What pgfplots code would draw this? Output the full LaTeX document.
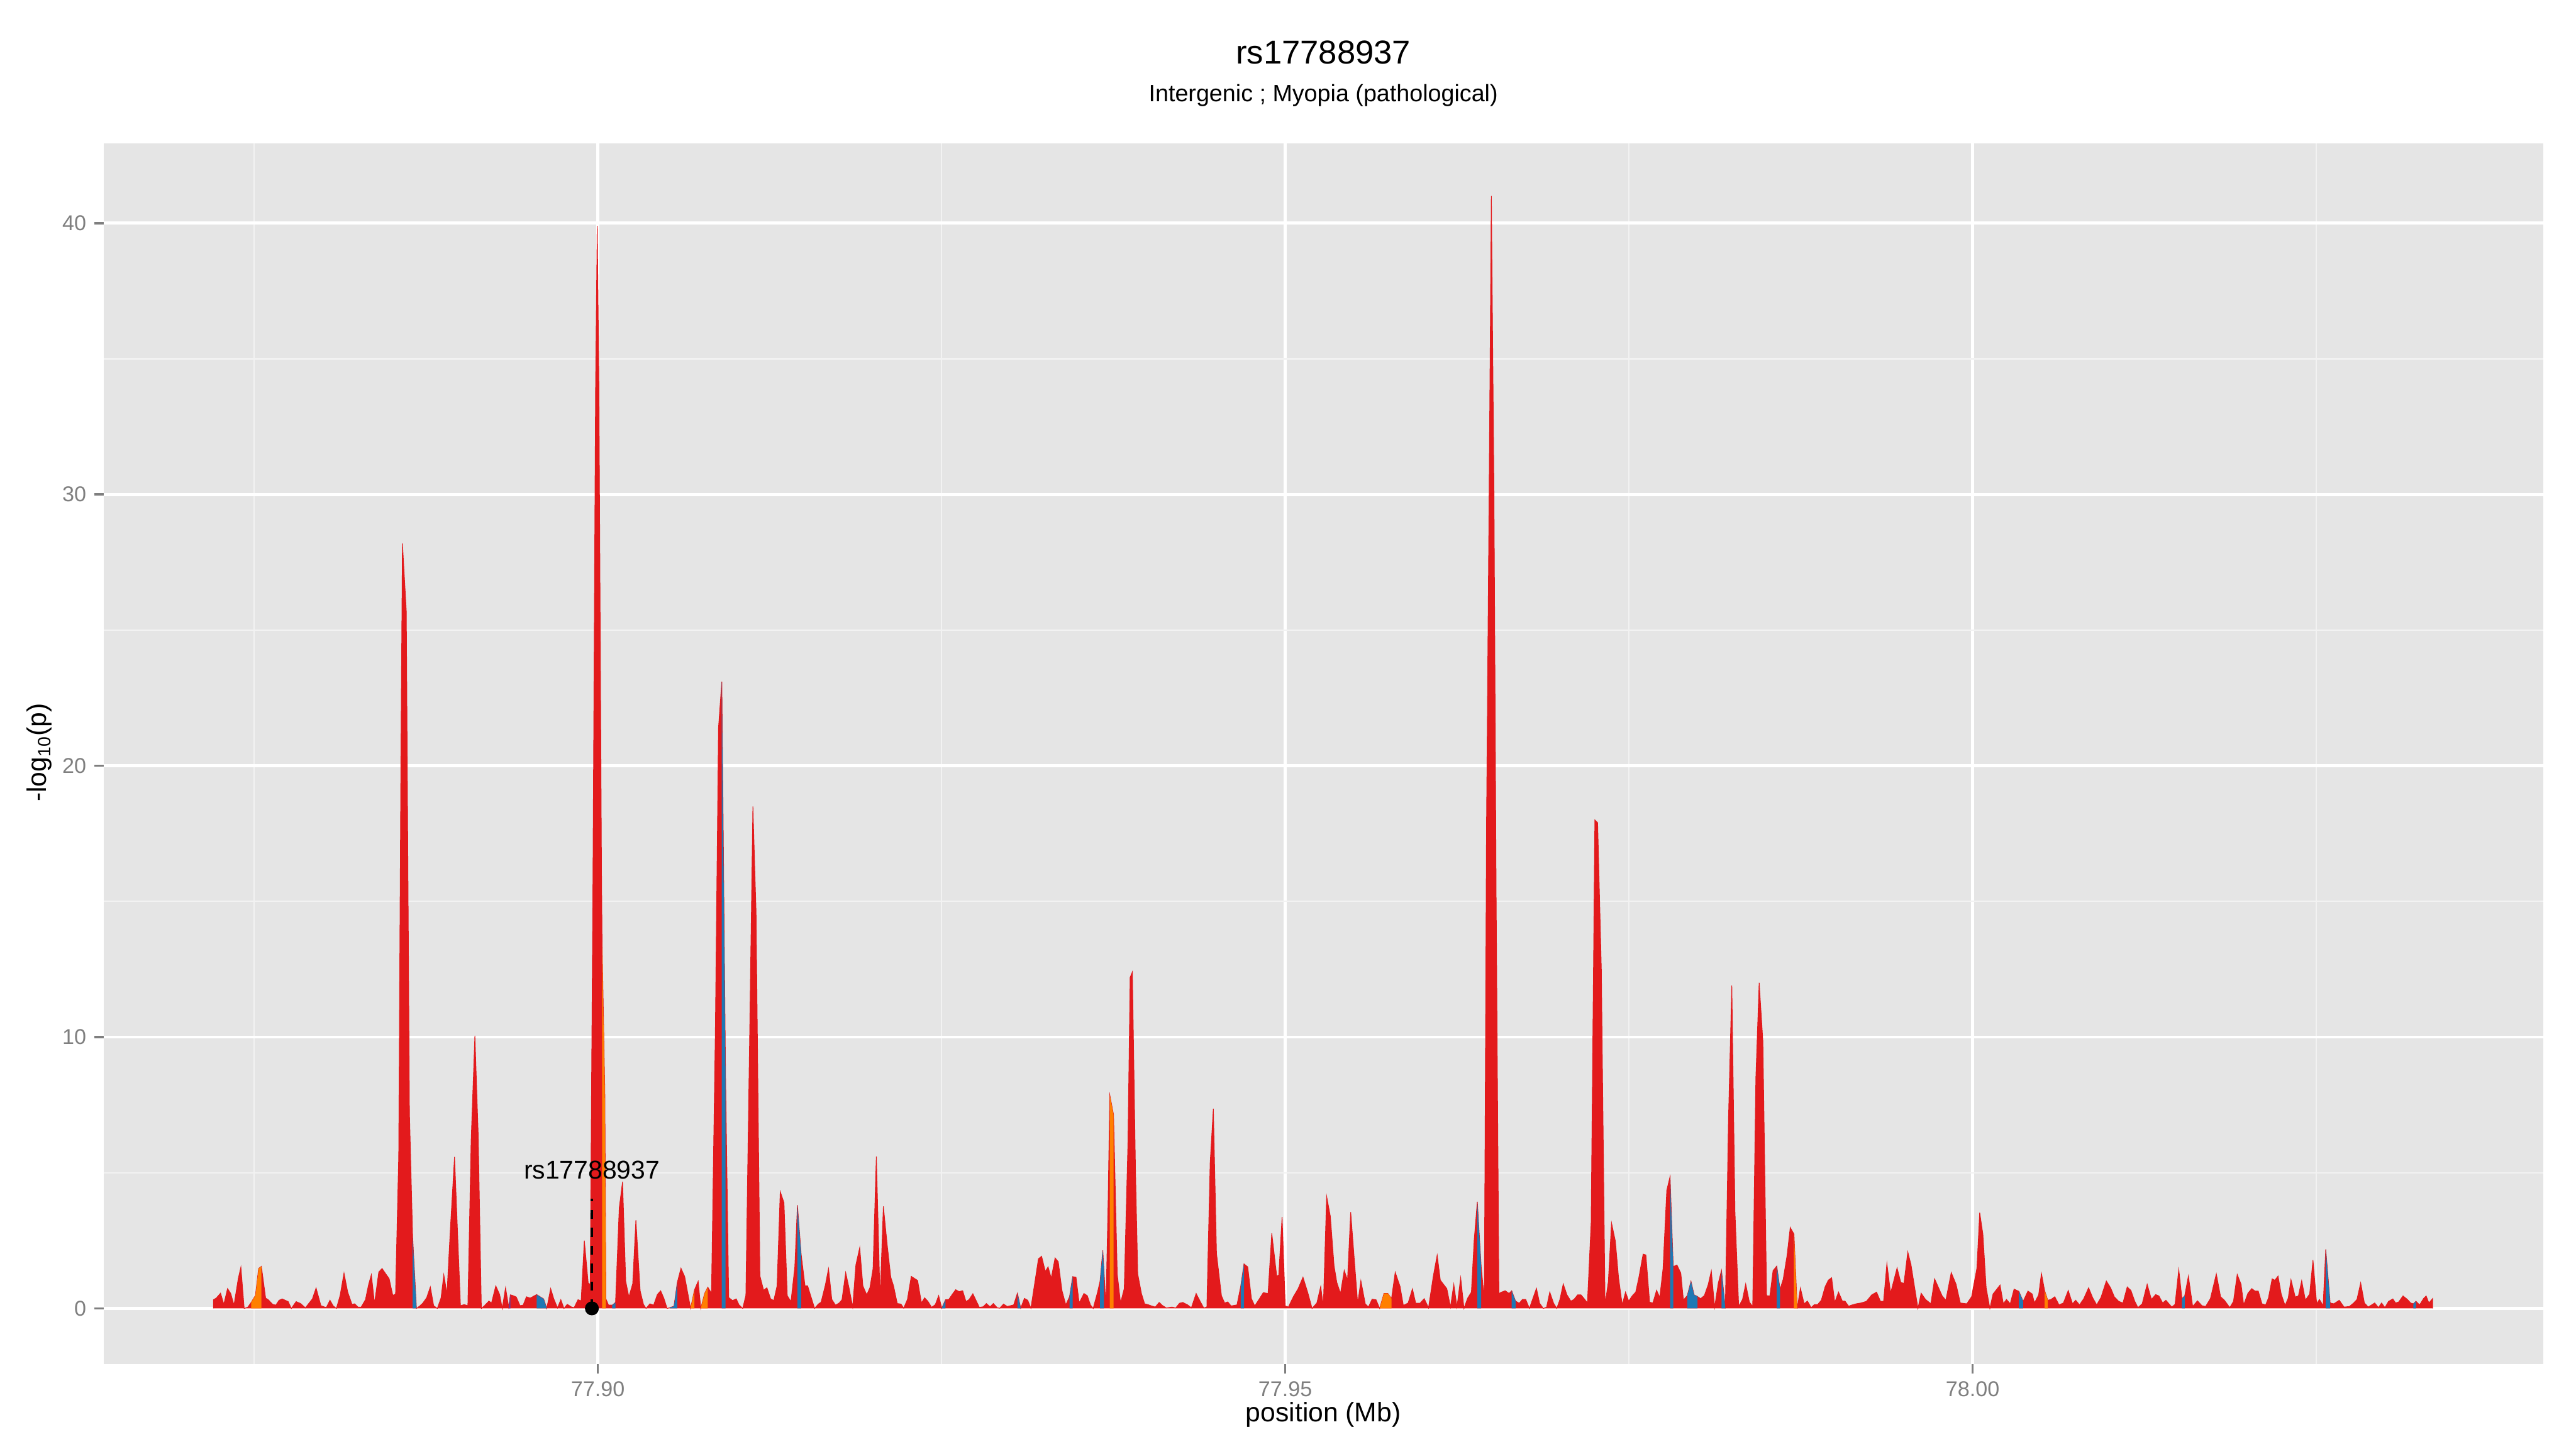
\documentclass[border=0pt]{standalone}
\usepackage{fontspec}
\setmainfont{Liberation Sans}
\usepackage{pgfplots}
\pgfplotsset{compat=1.18}
\usepackage{pgfplotstable}
\definecolor{ggbg}{HTML}{E5E5E5}
\definecolor{ggminor}{HTML}{F2F2F2}
\definecolor{ggtick}{HTML}{7F7F7F}
\definecolor{ggred}{HTML}{E31A1C}
\definecolor{ggblue}{HTML}{1F78B4}
\definecolor{ggorange}{HTML}{FF7F00}
\definecolor{ggpurple}{HTML}{6A3D9A}

\pgfplotstableread{
x y
77.87205 0
77.87205 0.32
77.87225 0.38
77.87256 0.56
77.87280 0.15
77.87307 0.73
77.87330 0.55
77.87354 0.12
77.87385 1.10
77.87404 1.52
77.87428 0
77.87455 0.05
77.87479 0.22
77.87510 0.48
77.87533 1.47
77.87553 1.55
77.87584 0.38
77.87603 0.32
77.87635 0.15
77.87658 0.12
77.87682 0.30
77.87705 0.35
77.87748 0.25
77.87771 0
77.87806 0.25
77.87838 0.18
77.87873 0.02
77.87924 0.35
77.87951 0.75
77.87986 0.10
77.88025 0.03
77.88052 0.30
77.88076 0.09
77.88099 0
77.88126 0.48
77.88154 1.30
77.88181 0.60
77.88212 0.15
77.88232 0.17
77.88255 0.05
77.88279 0.05
77.88310 0.32
77.88333 0.88
77.88353 1.24
77.88376 0.18
77.88407 1.34
77.88431 1.47
77.88458 1.27
77.88482 1.10
77.88509 0.48
77.88529 0.53
77.88552 5.6
77.88568 20.2
77.88579 28.2
77.88607 25.7
77.88630 7.2
77.88653 2.66
77.88681 0
77.88708 0.10
77.88728 0.20
77.88755 0.39
77.88782 0.79
77.88806 0.10
77.88833 0
77.88860 0.39
77.88880 1.24
77.88903 0.53
77.88927 2.86
77.88958 5.58
77.89001 0.10
77.89028 0.14
77.89055 0.10
77.89079 6.2
77.89106 10.05
77.89130 6.4
77.89153 0
77.89176 0.10
77.89208 0.27
77.89227 0.20
77.89258 0.83
77.89286 0.51
77.89305 0
77.89329 0.76
77.89352 0.05
77.89364 0.50
77.89379 0.48
77.89407 0.42
77.89434 0.10
77.89457 0.12
77.89481 0.43
77.89508 0.38
77.89555 0.51
77.89606 0.35
77.89629 0
77.89657 0.73
77.89680 0.35
77.89707 0.02
77.89731 0.32
77.89754 0
77.89778 0.15
77.89809 0.05
77.89828 0.03
77.89856 0.32
77.89879 0.28
77.89902 2.5
77.89930 0.94
77.89945 0.88
77.89965 16
77.89984 34
77.89996 39.9
77.90008 34
77.90027 16
77.90031 13.5
77.90051 8.0
77.90059 0.35
77.90078 0.12
77.90105 0.12
77.90129 0.22
77.90156 3.7
77.90180 4.67
77.90203 1.0
77.90226 0.42
77.90254 0.91
77.90277 3.25
77.90308 0.65
77.90332 0.15
77.90351 0
77.90379 0.17
77.90406 0.12
77.90433 0.51
77.90457 0.65
77.90480 0.38
77.90504 0
77.90523 0.03
77.90554 0.08
77.90578 0.95
77.90605 1.48
77.90632 1.17
77.90675 0
77.90703 0.68
77.90730 1.0
77.90749 0
77.90777 0.55
77.90800 0.78
77.90827 0.56
77.90855 10.2
77.90878 21.4
77.90902 23.1
77.90929 8.6
77.90952 0.40
77.90980 0.29
77.91007 0.35
77.91027 0.13
77.91054 0
77.91077 0.48
77.91105 10.2
77.91128 18.5
77.91151 14.6
77.91179 1.2
77.91206 0.67
77.91230 0.76
77.91257 0.35
77.91280 0.29
77.91304 0.83
77.91327 4.3
77.91354 3.9
77.91378 0.47
77.91405 0.25
77.91433 1.53
77.91452 3.8
77.91479 2.0
77.91507 0.83
77.91526 0.83
77.91577 0
77.91604 0.16
77.91624 0.23
77.91655 0.86
77.91678 1.46
77.91702 0.33
77.91729 0.12
77.91756 0.20
77.91776 0.32
77.91803 1.32
77.91827 0.76
77.91854 0.05
77.91877 1.6
77.91905 2.24
77.91928 0.83
77.91956 0.5
77.91979 0.76
77.92002 1.46
77.92026 5.6
77.92053 0.28
77.92077 3.76
77.92104 2.38
77.92131 1.15
77.92151 0.83
77.92178 0.18
77.92205 0.16
77.92225 0.01
77.92252 0.33
77.92280 1.18
77.92326 1.03
77.92354 0.20
77.92377 0.39
77.92401 0.26
77.92428 0.04
77.92455 0.14
77.92479 0.47
77.92502 0.01
77.92529 0.32
77.92553 0.33
77.92580 0.53
77.92603 0.69
77.92627 0.62
77.92654 0.65
77.92678 0.25
77.92701 0.33
77.92728 0.54
77.92775 0.04
77.92803 0.06
77.92826 0.18
77.92853 0.06
77.92877 0.18
77.92904 0.03
77.92924 0.01
77.92951 0.16
77.92978 0.07
77.93025 0.13
77.93052 0.56
77.93076 0.01
77.93103 0.37
77.93127 0.30
77.93150 0.01
77.93177 0.9
77.93205 1.83
77.93228 1.92
77.93255 1.36
77.93275 1.53
77.93298 1.11
77.93326 1.86
77.93349 1.72
77.93376 0.66
77.93404 0.13
77.93431 0.43
77.93454 1.17
77.93478 1.15
77.93501 0.20
77.93536 0.55
77.93560 0.47
77.93583 0.13
77.93603 0
77.93634 0.58
77.93653 1.0
77.93673 2.14
77.93681 1.44
77.93696 0.05
77.93712 4.0
77.93724 7.86
77.93751 7.14
77.93778 1.27
77.93802 0.20
77.93829 0.73
77.93856 6.1
77.93872 12.2
77.93888 12.4
77.93911 5.0
77.93927 1.27
77.93954 0.55
77.93977 0.17
77.94001 0.14
77.94028 0.09
77.94055 0.05
77.94083 0.22
77.94106 0.11
77.94134 0.02
77.94176 0.05
77.94204 0.02
77.94231 0.19
77.94255 0.22
77.94290 0.13
77.94317 0.02
77.94352 0.55
77.94379 0.28
77.94407 0.02
77.94430 0.05
77.94454 5.36
77.94477 7.36
77.94500 2.02
77.94536 0.47
77.94559 0.20
77.94582 0.24
77.94606 0.09
77.94649 0.13
77.94676 0.81
77.94700 1.64
77.94727 1.53
77.94754 0.36
77.94778 0.09
77.94813 0.36
77.94840 0.58
77.94875 0.55
77.94902 2.77
77.94938 1.19
77.94953 1.23
77.94977 3.37
77.95000 0.09
77.95023 0.05
77.95059 0.43
77.95094 0.73
77.95129 1.15
77.95164 0.58
77.95195 0
77.95230 0.20
77.95258 0.81
77.95277 0.05
77.95301 4.13
77.95328 3.39
77.95355 1.57
77.95375 0.96
77.95402 0.55
77.95429 1.4
77.95453 1.04
77.95476 3.55
77.95500 1.95
77.95527 0.17
77.95550 1.02
77.95582 0.17
77.95605 0.05
77.95632 0.34
77.95660 0.32
77.95687 0
77.95718 0.55
77.95746 0.55
77.95773 0.36
77.95800 1.33
77.95835 0.81
77.95859 0.11
77.95894 0.20
77.95925 0.72
77.95949 0.19
77.95980 0.19
77.96011 0.36
77.96042 0.02
77.96077 1.19
77.96105 1.96
77.96128 1.04
77.96175 0.73
77.96202 0.05
77.96226 0.89
77.96249 0.05
77.96276 1.13
77.96300 0
77.96327 0.38
77.96354 0.6
77.96374 2.5
77.96397 3.93
77.96425 1.55
77.96448 0.33
77.96464 17.8
77.96483 30.1
77.96499 41.0
77.96518 30.1
77.96534 15.1
77.96554 0.55
77.96573 0.60
77.96600 0.65
77.96628 0.55
77.96647 0.65
77.96675 0.27
77.96702 0.19
77.96725 0.33
77.96749 0.33
77.96776 0
77.96827 0.74
77.96850 0.19
77.96877 0
77.96901 0.05
77.96924 0.6
77.96952 0.19
77.96975 0
77.96998 0.33
77.97022 0.9
77.97049 0.5
77.97077 0.27
77.97100 0.33
77.97127 0.5
77.97151 0.5
77.97174 0.36
77.97198 0.2
77.97225 3.15
77.97252 18.0
77.97272 17.9
77.97299 12.5
77.97326 0.13
77.97350 0.98
77.97373 3.15
77.97401 2.48
77.97424 1.14
77.97451 0.13
77.97475 0.6
77.97498 0.27
77.97525 0.47
77.97549 0.6
77.97572 1.14
77.97603 2.0
77.97623 1.97
77.97650 0.23
77.97674 0.2
77.97701 0.67
77.97724 0.4
77.97748 1.47
77.97775 4.35
77.97799 4.86
77.97822 1.54
77.97849 1.6
77.97877 1.3
77.97896 0.31
77.97924 0.47
77.97951 1.0
77.97974 0.5
77.97998 0.44
77.98021 0.36
77.98048 0.47
77.98076 0.87
77.98099 1.38
77.98123 0.04
77.98150 0.94
77.98173 1.4
77.98201 0
77.98224 7.0
77.98248 11.9
77.98271 3.55
77.98298 0.07
77.98326 0.33
77.98349 0.9
77.98376 0.23
77.98400 0.07
77.98423 8.5
77.98447 12.0
77.98474 9.84
77.98501 0.47
77.98525 0.46
77.98548 1.39
77.98575 1.56
77.98599 0.7
77.98622 1.08
77.98650 1.95
77.98673 2.98
77.98700 2.74
77.98724 0
77.98747 0.75
77.98774 0.17
77.98798 0.27
77.98825 0.03
77.98849 0.14
77.98872 0.14
77.98899 0.3
77.98927 0.8
77.98950 1.04
77.98974 1.13
77.98997 0.22
77.99024 0.6
77.99052 0.27
77.99071 0.27
77.99098 0.08
77.99118 0.12
77.99153 0.17
77.99188 0.2
77.99227 0.26
77.99266 0.5
77.99301 0.6
77.99329 0.26
77.99352 0.26
77.99376 1.65
77.99403 0.56
77.99450 1.49
77.99477 0.96
77.99500 0.92
77.99528 2.08
77.99551 1.62
77.99602 0
77.99625 0.56
77.99657 0.33
77.99696 0.17
77.99723 1.09
77.99778 0.46
77.99805 0.3
77.99844 1.32
77.99879 0.89
77.99910 0.2
77.99957 0.17
77.99992 0.43
78.00031 1.49
78.00051 3.53
78.00074 2.74
78.00098 0.76
78.00125 0
78.00148 0.53
78.00199 0.86
78.00223 0.17
78.00246 0.33
78.00273 0.17
78.00301 0.71
78.00336 0.63
78.00367 0.26
78.00402 0.64
78.00433 0.53
78.00449 0.2
78.00480 0.5
78.00500 1.29
78.00523 0.66
78.00546 0.3
78.00570 0.33
78.00597 0.43
78.00628 0.13
78.00660 0.2
78.00695 0.66
78.00726 0.17
78.00749 0.3
78.00777 0.13
78.00808 0.36
78.00843 0.76
78.00874 0.38
78.00902 0.13
78.00933 0.4
78.00972 1.01
78.01003 0.76
78.01030 0.43
78.01062 0.26
78.01093 0.2
78.01124 0.79
78.01151 0.66
78.01179 0.26
78.01202 0.03
78.01233 0.17
78.01269 0.89
78.01300 0.33
78.01331 0.51
78.01354 0.46
78.01382 0.2
78.01405 0.3
78.01448 0.05
78.01472 0.15
78.01499 1.43
78.01522 0.36
78.01542 0.46
78.01569 1.19
78.01600 0.07
78.01635 0.28
78.01667 0.1
78.01694 0.07
78.01729 0.36
78.01772 1.27
78.01803 0.43
78.01831 0.3
78.01870 0.03
78.01897 0.26
78.01924 1.25
78.01952 0.89
78.01971 0.13
78.02002 0.56
78.02030 0.73
78.02053 0.64
78.02077 0.64
78.02104 0.17
78.02131 0.13
78.02151 0.38
78.02178 1.09
78.02198 1.04
78.02221 1.19
78.02244 0.53
78.02272 0.1
78.02295 0.38
78.02315 1.06
78.02346 0.42
78.02369 0.46
78.02393 1.02
78.02420 0.3
78.02451 0.53
78.02475 1.78
78.02502 0.17
78.02522 0.33
78.02549 0.1
78.02568 2.18
78.02600 0.2
78.02627 0.17
78.02666 0.3
78.02701 0.05
78.02740 0.07
78.02771 0.2
78.02795 0.33
78.02822 0.94
78.02849 0.2
78.02877 0.05
78.02924 0.2
78.02951 0.03
78.02974 0.2
78.02998 0.03
78.03025 0.26
78.03056 0.35
78.03076 0.2
78.03099 0.24
78.03130 0.46
78.03162 0.33
78.03185 0.2
78.03205 0.17
78.03224 0.26
78.03251 0.13
78.03279 0.36
78.03298 0.46
78.03318 0.2
78.03345 0.36
78.03345 0
}\redtab

\begin{document}
\begin{tikzpicture}
\useasboundingbox (-46.3pt,-38pt) rectangle (1105.7pt,610pt);
\begin{axis}[
  at={(0pt,0pt)}, anchor=south west,
  width=1091pt, height=546pt, scale only axis,
  xmin=77.86405, xmax=78.04149, ymin=-2.05, ymax=42.95,
  axis background/.style={fill=ggbg},
  axis line style={draw=none},
  xtick={77.90,77.95,78.00}, xticklabels={77.90,77.95,78.00},
  ytick={0,10,20,30,40}, yticklabels={0,10,20,30,40},
  minor xtick={77.875,77.925,77.975,78.025},
  minor ytick={5,15,25,35},
  grid=both,
  major grid style={white, line width=1.3pt},
  minor grid style={ggminor, line width=0.65pt},
  tick align=outside, tick pos=left,
  major tick length=4.25pt, minor tick length=0pt,
  every tick/.style={ggtick, line width=1pt},
  tick label style={font=\fontsize{9.6}{11}\selectfont, text=ggtick},
]
\addplot[fill=ggred, draw=ggred, line width=0.3pt] table[x=x,y=y] {\redtab};
% coloured segments of the same profile
\addplot[fill=ggorange, draw=none] coordinates {(77.87479,0)(77.87479,0.22)(77.87510,0.48)(77.87533,1.47)(77.87553,1.55)(77.87553,0)};
\addplot[fill=ggblue, draw=none] coordinates {(77.88653,0)(77.88653,2.66)(77.88681,0)};
\addplot[fill=ggpurple, draw=none] coordinates {(77.89352,0)(77.89352,0.05)(77.89364,0.50)(77.89364,0)};
\addplot[fill=ggblue, draw=none] coordinates {(77.89555,0)(77.89555,0.51)(77.89606,0.35)(77.89629,0)};
\addplot[fill=ggorange, draw=none] coordinates {(77.90031,0)(77.90031,13.5)(77.90051,8.0)(77.90059,0.35)(77.90059,0)};
\addplot[fill=ggblue, draw=none] coordinates {(77.90105,0)(77.90105,0.12)(77.90129,0.22)(77.90129,0)};
\addplot[fill=ggblue, draw=none] coordinates {(77.90523,0)(77.90523,0.03)(77.90554,0.08)(77.90578,0.95)(77.90578,0)};
\addplot[fill=ggorange, draw=none] coordinates {(77.90675,0)(77.90703,0.68)(77.90703,0)};
\addplot[fill=ggorange, draw=none] coordinates {(77.90749,0)(77.90777,0.55)(77.90800,0.78)(77.90800,0)};
\addplot[fill=ggblue, draw=none] coordinates {(77.90902,0)(77.90902,23.1)(77.90929,8.6)(77.90929,0)};
\addplot[fill=ggblue, draw=none] coordinates {(77.91452,0)(77.91452,3.8)(77.91479,2.0)(77.91479,0)};
\addplot[fill=ggblue, draw=none] coordinates {(77.92502,0)(77.92502,0.01)(77.92529,0.32)(77.92529,0)};
\addplot[fill=ggblue, draw=none] coordinates {(77.93052,0)(77.93052,0.56)(77.93076,0.01)(77.93076,0)};
\addplot[fill=ggblue, draw=none] coordinates {(77.93431,0)(77.93431,0.43)(77.93454,1.17)(77.93454,0)};
\addplot[fill=ggblue, draw=none] coordinates {(77.93653,0)(77.93653,1.0)(77.93673,2.14)(77.93681,1.44)(77.93681,0)};
\addplot[fill=ggorange, draw=none] coordinates {(77.93724,0)(77.93724,7.86)(77.93751,7.14)(77.93751,0)};
\addplot[fill=ggblue, draw=none] coordinates {(77.94676,0)(77.94676,0.81)(77.94700,1.64)(77.94700,0)};
\addplot[fill=ggorange, draw=none] coordinates {(77.95687,0)(77.95718,0.55)(77.95746,0.55)(77.95773,0.36)(77.95773,0)};
\addplot[fill=ggblue, draw=none] coordinates {(77.96397,0)(77.96397,3.93)(77.96425,1.55)(77.96425,0)};
\addplot[fill=ggblue, draw=none] coordinates {(77.96647,0)(77.96647,0.65)(77.96675,0.27)(77.96675,0)};
\addplot[fill=ggblue, draw=none] coordinates {(77.97799,0)(77.97799,4.86)(77.97822,1.54)(77.97822,0)};
\addplot[fill=ggblue, draw=none] coordinates {(77.97924,0)(77.97924,0.47)(77.97951,1.0)(77.97974,0.5)(77.97998,0.44)(77.97998,0)};
\addplot[fill=ggblue, draw=none] coordinates {(77.98173,0)(77.98173,1.4)(77.98201,0)};
\addplot[fill=ggblue, draw=none] coordinates {(77.98575,0)(77.98575,1.56)(77.98599,0.7)(77.98599,0)};
\addplot[fill=ggorange, draw=none] coordinates {(77.98700,0)(77.98700,2.74)(77.98724,0)};
\addplot[fill=ggblue, draw=none] coordinates {(78.00336,0)(78.00336,0.63)(78.00367,0.26)(78.00367,0)};
\addplot[fill=ggorange, draw=none] coordinates {(78.00523,0)(78.00523,0.66)(78.00546,0.3)(78.00546,0)};
\addplot[fill=ggblue, draw=none] coordinates {(78.01522,0)(78.01522,0.36)(78.01542,0.46)(78.01542,0)};
\addplot[fill=ggblue, draw=none] coordinates {(78.02568,0)(78.02568,2.18)(78.02600,0.2)(78.02600,0)};
\addplot[fill=ggblue, draw=none] coordinates {(78.03205,0)(78.03205,0.17)(78.03224,0.26)(78.03224,0)};
% SNP annotation
\addplot[black, line width=1.2pt, dash pattern=on 4pt off 4pt] coordinates {(77.89957,0) (77.89957,4.05)};
\addplot[only marks, mark=*, mark size=2.9pt, black] coordinates {(77.89957,0)};
\node[font=\fontsize{11.5}{13}\selectfont] at (axis cs:77.89957,5.1) {rs17788937};
\end{axis}
\node[font=\fontsize{14.8}{17}\selectfont] at (545.5pt,586.5pt) {rs17788937};
\node[font=\fontsize{10.6}{12}\selectfont] at (545.5pt,567.3pt) {Intergenic ; Myopia (pathological)};
\node[font=\fontsize{12}{14}\selectfont] at (545.5pt,-22.6pt) {position (Mb)};
\node[font=\fontsize{12}{14}\selectfont, rotate=90] at (-28.7pt,273.5pt) {-log\textsubscript{10}(p)};
\end{tikzpicture}
\end{document}
